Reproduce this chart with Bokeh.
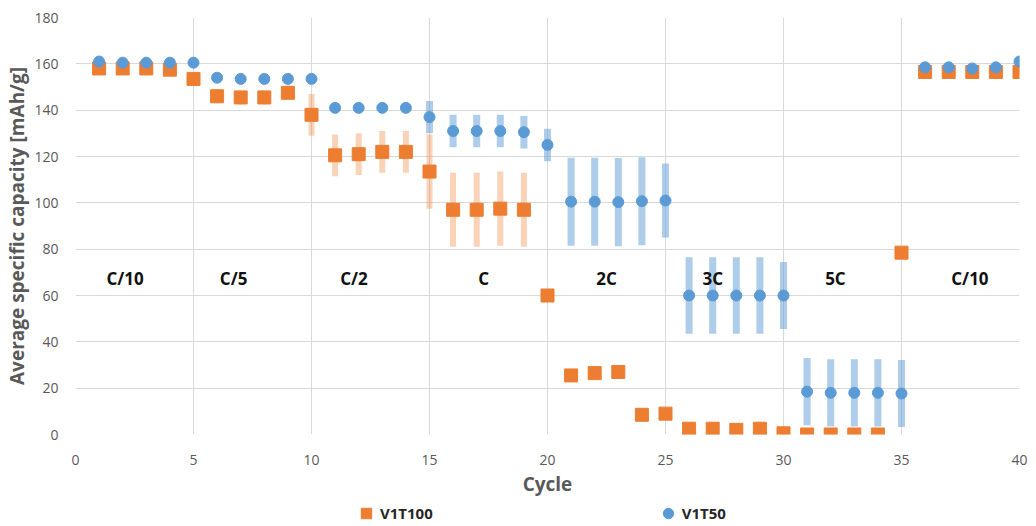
from bokeh.plotting import figure
from bokeh.layouts import column
from bokeh.models import ColumnDataSource, FixedTicker, Range1d, Legend, LegendItem
from bokeh.core.properties import value
from bokeh.embed import file_html
from bokeh.resources import INLINE

# Cycle numbers
cycles = list(range(1, 41))

# V1T100: mean capacity and standard deviation per cycle [mAh/g]
v1t100_mean = [158, 158, 158, 157.5, 153.5, 146, 145.5, 145.5, 147.5, 138,
               120.5, 121, 122, 122, 113.5, 97, 97, 97.5, 97, 60,
               25.5, 26.5, 27, 8.5, 9, 2.5, 2.5, 2, 2.5, 0.5,
               0, 0, 0, 0, 78.5, 156.5, 156.5, 156.5, 156.5, 156.5]
v1t100_std = [1.5, 1.5, 1.5, 1.5, 2, 3, 3, 3, 3, 9,
              9, 9, 9, 9, 16, 16, 16, 16, 16, 0.5,
              1, 1, 1, 1, 1, 1, 1, 1, 1, 1,
              0.5, 0.5, 0.5, 0.5, 0.5, 1.5, 1.5, 1.5, 1.5, 1.5]

# V1T50: mean capacity and standard deviation per cycle [mAh/g]
v1t50_mean = [161, 160.5, 160.5, 160.5, 160.5, 154, 153.5, 153.5, 153.5, 153.5,
              141, 141, 141, 141, 137, 131, 131, 131, 130.5, 125,
              100.5, 100.5, 100.3, 100.7, 101, 60, 60, 60, 60, 60,
              18.5, 18, 18, 18, 17.7, 158.5, 158.5, 158, 158.5, 161]
v1t50_std = [1, 1, 1, 1, 1, 1, 1, 1, 1, 1,
             1, 1, 1, 1, 7, 7, 7, 7, 7, 7,
             19, 19, 19, 19, 16, 16.5, 16.5, 16.5, 16.5, 14.5,
             14.5, 14.5, 14.5, 14.5, 14.5, 1, 1, 1, 1, 1]

# C-rate annotations
rate_labels = ["C/10", "C/5", "C/2", "C", "2C", "3C", "5C", "C/10"]
rate_x = [2.1, 6.7, 11.8, 17.3, 22.5, 27.0, 32.2, 37.9]
rate_y = [67.3] * len(rate_labels)

series_names = ["V1T100", "V1T50"]

x_ticks = [0, 5, 10, 15, 20, 25, 30, 35, 40]
y_ticks = [0, 20, 40, 60, 80, 100, 120, 140, 160, 180]

ORANGE = "#ED7D31"
BLUE = "#5B9BD5"
FONT = "Open Sans"

def band(mean, std):
    return dict(x=cycles, y=mean,
                lo=[m - s for m, s in zip(mean, std)],
                hi=[m + s for m, s in zip(mean, std)])

src100 = ColumnDataSource(band(v1t100_mean, v1t100_std))
src50 = ColumnDataSource(band(v1t50_mean, v1t50_std))

p = figure(width=1036, height=499, output_backend="svg", toolbar_location=None,
           x_range=Range1d(0, 40), y_range=Range1d(0, 180),
           min_border_left=75, min_border_right=17, min_border_top=17,
           min_border_bottom=65)
p.outline_line_color = None
p.background_fill_color = "white"
p.border_fill_color = "white"

# Error bars and markers
p.segment(x0="x", y0="lo", x1="x", y1="hi", source=src100,
          line_color=ORANGE, line_alpha=0.35, line_width=6, line_cap="butt")
p.scatter("x", "y", source=src100, marker="square", size=13,
          fill_color=ORANGE, line_color=ORANGE)
p.segment(x0="x", y0="lo", x1="x", y1="hi", source=src50,
          line_color=BLUE, line_alpha=0.5, line_width=7, line_cap="butt")
p.scatter("x", "y", source=src50, marker="circle", size=11,
          fill_color=BLUE, line_color=BLUE)

# Rate annotations
p.text(x=rate_x, y=rate_y, text=rate_labels, text_align="center",
       text_baseline="middle", text_font=value(FONT), text_font_size="17px",
       text_font_style="bold", text_color="#111111")

# Axes
for ax in (p.xaxis[0], p.yaxis[0]):
    ax.axis_line_color = None
    ax.major_tick_line_color = None
    ax.minor_tick_line_color = None
    ax.major_label_text_font = FONT
    ax.major_label_text_font_size = "14px"
    ax.major_label_text_color = "#595959"
    ax.axis_label_text_font = FONT
    ax.axis_label_text_font_size = "19px"
    ax.axis_label_text_font_style = "bold"
    ax.axis_label_text_color = "#595959"

p.xaxis.ticker = FixedTicker(ticks=x_ticks)
p.yaxis.ticker = FixedTicker(ticks=y_ticks)
p.xaxis.axis_label = "Cycle"
p.yaxis.axis_label = "Average specific capacity [mAh/g]"
p.xaxis.major_label_standoff = 14
p.yaxis.major_label_standoff = 11
p.xaxis.axis_label_standoff = 3
p.yaxis.axis_label_standoff = 1

p.xgrid.ticker = FixedTicker(ticks=x_ticks)
p.ygrid.ticker = FixedTicker(ticks=y_ticks)
p.xgrid.grid_line_color = "#D9D9D9"
p.ygrid.grid_line_color = "#D9D9D9"

# Legend strip under the chart; its ranges keep the series points out of view
leg = figure(width=1036, height=27, output_backend="svg", toolbar_location=None,
             x_range=Range1d(-2, -1), y_range=Range1d(-2, -1),
             min_border=0)
leg.axis.visible = False
leg.grid.visible = False
leg.outline_line_color = None
k100 = leg.scatter("x", "y", source=src100, marker="square", size=13,
                   fill_color=ORANGE, line_color=ORANGE)
k50 = leg.scatter("x", "y", source=src50, marker="circle", size=11,
                  fill_color=BLUE, line_color=BLUE)
legend = Legend(items=[LegendItem(label=series_names[0], renderers=[k100]),
                       LegendItem(label=series_names[1], renderers=[k50])],
                orientation="horizontal", location=(278, 0),
                label_text_font=FONT, label_text_font_size="15px",
                label_text_font_style="bold", label_text_color="#262626",
                glyph_width=26, glyph_height=26, label_standoff=1,
                spacing=222, padding=0, margin=0,
                border_line_color=None, background_fill_alpha=0)
leg.add_layout(legend, "center")

layout = column(p, leg, spacing=0)
html = file_html(layout, INLINE)
open("out.html", "w").write(html)
